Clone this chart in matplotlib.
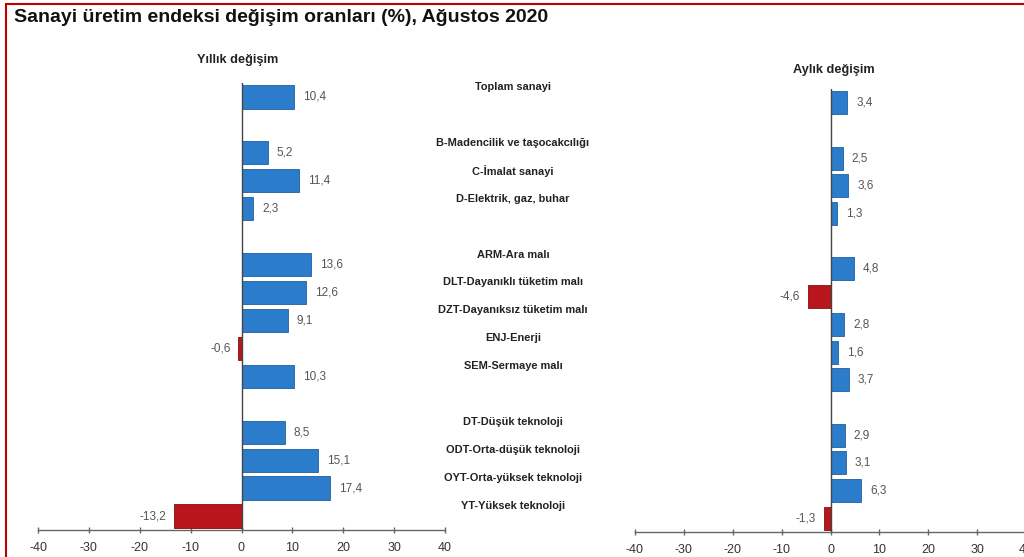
# Sanayi üretim endeksi - yıllık ve aylık değişim oranları
import matplotlib.pyplot as plt
import matplotlib.transforms as mtransforms
from matplotlib.patches import Rectangle

plt.rcParams['font.family'] = ['Liberation Sans', 'DejaVu Sans']

categories = ["Toplam sanayi",
              "B-Madencilik ve taşocakcılığı", "C-İmalat sanayi", "D-Elektrik, gaz, buhar",
              "ARM-Ara malı", "DLT-Dayanıklı tüketim malı", "DZT-Dayanıksız tüketim malı",
              "ENJ-Enerji", "SEM-Sermaye malı",
              "DT-Düşük teknoloji", "ODT-Orta-düşük teknoloji", "OYT-Orta-yüksek teknoloji",
              "YT-Yüksek teknoloji"]
# row slots, with empty rows between the groups
slots = [0, 2, 3, 4, 6, 7, 8, 9, 10, 12, 13, 14, 15]
yillik = [10.4, 5.2, 11.4, 2.3, 13.6, 12.6, 9.1, -0.6, 10.3, 8.5, 15.1, 17.4, -13.2]
aylik = [3.4, 2.5, 3.6, 1.3, 4.8, -4.6, 2.8, 1.6, 3.7, 2.9, 3.1, 6.3, -1.3]
xticks = [-40, -30, -20, -10, 0, 10, 20, 30, 40]

BLUE = "#2b7dcc"
BLUE_EDGE = "#1f5f9e"
RED = "#b8161b"
RED_EDGE = "#7d0f12"

W, H = 1024, 557
fig = plt.figure(figsize=(W / 100, H / 100), dpi=100)

def px_axes(left, top, right, bottom):
    return fig.add_axes([left / W, 1 - bottom / H, (right - left) / W, (bottom - top) / H])

def draw_panel(ax, values):
    colors = [BLUE if v >= 0 else RED for v in values]
    edges = [BLUE_EDGE if v >= 0 else RED_EDGE for v in values]
    ax.barh(slots, values, height=0.83, color=colors, edgecolor=edges, linewidth=0.6, zorder=2)
    ax.axvline(0, color="#444444", linewidth=1.0, zorder=3)
    for y, v in zip(slots, values):
        txt = f"{v:.1f}".replace(".", ",")
        if v >= 0:
            ax.annotate(txt, (v, y), xytext=(9, 0), textcoords="offset pixels",
                        ha="left", va="center", fontsize=8.5, color="#555555")
        else:
            ax.annotate(txt, (v, y), xytext=(-8, 0), textcoords="offset pixels",
                        ha="right", va="center", fontsize=8.5, color="#555555")
    ax.set_xlim(-40, 40)
    ax.set_ylim(15.5, -0.5)
    ax.set_xticks(xticks)
    ax.set_xticklabels([str(t) for t in xticks], fontsize=9, color="#333333")
    ax.set_yticks([])
    for s in ["top", "left", "right"]:
        ax.spines[s].set_visible(False)
    ax.spines["bottom"].set_color("#666666")
    ax.spines["bottom"].set_linewidth(1.0)
    ax.tick_params(axis="x", direction="inout", length=5, width=1, color="#666666", pad=6)
    ax.patch.set_alpha(0)

ax1 = px_axes(38, 83, 445, 530)
draw_panel(ax1, yillik)
ax2 = px_axes(635, 89, 1026, 532)
draw_panel(ax2, aylik)

# category names between the two panels
trans = mtransforms.blended_transform_factory(fig.transFigure, ax1.transData)
for y, name in zip(slots, categories):
    ax1.text(513 / W, y - 0.36, name, transform=trans, ha="center", va="center",
             fontsize=7.9, fontweight="bold", color="#222222", clip_on=False)

fig.text(238 / W, 1 - 60 / H, "Yıllık değişim", ha="center", va="center",
         fontsize=9.2, fontweight="bold", color="#222222")
fig.text(834 / W, 1 - 70 / H, "Aylık değişim", ha="center", va="center",
         fontsize=9.2, fontweight="bold", color="#222222")
fig.text(14 / W, 1 - 17 / H, "Sanayi üretim endeksi değişim oranları (%), Ağustos 2020",
         ha="left", va="center", fontsize=14, fontweight="bold", color="#111111")

# red frame, open on the right and bottom
fig.patches.append(Rectangle((6 / W, -0.05), 1.1, 1 - 4 / H + 0.05, transform=fig.transFigure,
                             fill=False, edgecolor="#c00000", linewidth=1.5))

fig.savefig("out.png", dpi=100)
